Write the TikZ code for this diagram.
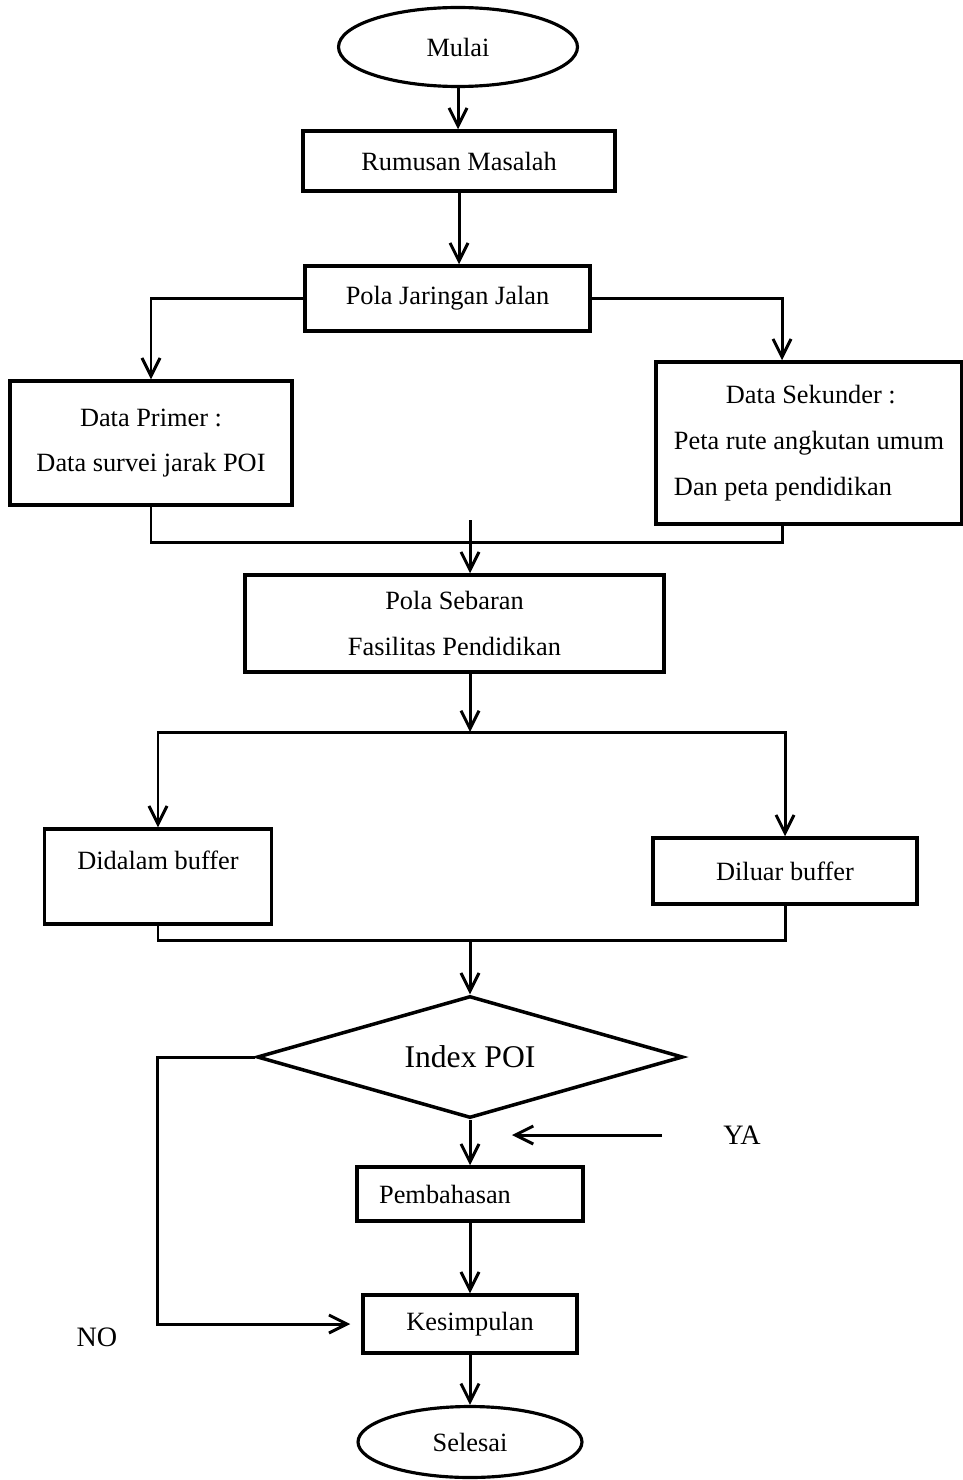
\documentclass[tikz,border=0pt]{standalone}
\usepackage{fontspec}
\setmainfont{Liberation Serif}
\usetikzlibrary{arrows.meta,shapes.geometric}

\begin{document}
\begin{tikzpicture}[x=0.02cm,y=-0.02cm,>={Straight Barb[length=3.6mm,width=3.6mm]},
    box/.style={draw,rectangle,line width=2pt,inner sep=0pt,font=\fontsize{15}{26}\selectfont},
    term/.style={draw,ellipse,line width=1.8pt,inner sep=0pt,font=\fontsize{15}{18}\selectfont},
    line/.style={line width=1.7pt},
    lbl/.style={font=\fontsize{16}{19}\selectfont}]
    \useasboundingbox (0,0) rectangle (963,1480);

    \node[term,minimum width=4.78cm,minimum height=1.58cm] (mulai) at (458,47) {Mulai};
    \node[box,minimum width=6.24cm,minimum height=1.2cm] (rumusan) at (459,161) {Rumusan Masalah};
    \node[box,minimum width=5.7cm,minimum height=1.3cm] (jaringan) at (447.5,298.5) {Pola Jaringan Jalan};
    \node[box,align=center,minimum width=5.64cm,minimum height=2.48cm] (primer) at (151,443) {Data Primer :\\Data survei jarak POI};
    \node[box,align=left,minimum width=6.12cm,minimum height=3.24cm] (sekunder) at (809,443) {\hspace*{1.04cm}Data Sekunder :\\Peta rute angkutan umum\\Dan peta pendidikan};
    \node[box,align=center,minimum width=8.38cm,minimum height=1.94cm] (sebaran) at (454.5,623.5) {Pola Sebaran\\Fasilitas Pendidikan};
    \node[box,minimum width=4.54cm,minimum height=1.9cm] (didalam) at (158,876.5) {\raisebox{0.64cm}{Didalam buffer}};
    \node[box,minimum width=5.28cm,minimum height=1.32cm] (diluar) at (785,871) {Diluar buffer};
    \node[draw,diamond,aspect=3.5,line width=2pt,inner sep=0pt,minimum width=8.52cm,minimum height=2.44cm,font=\fontsize{18}{21}\selectfont] (poi) at (470,1057) {Index POI};
    \node[box,minimum width=4.52cm,minimum height=1.08cm] (pembahasan) at (470,1194) {Pembahasan\kern1cm};
    \node[box,minimum width=4.28cm,minimum height=1.16cm] (kesimpulan) at (470,1324) {Kesimpulan};
    \node[term,minimum width=4.48cm,minimum height=1.42cm] (selesai) at (470,1442) {Selesai};
    \node[lbl] (ya) at (742,1135) {YA};
    \node[lbl] (no) at (97,1337) {NO};

    \coordinate (p1) at (470,520);
    \coordinate (p2) at (470,732);
    \coordinate (p3) at (470,940);

    \draw[->,line] (mulai.south) -- (mulai.south |- rumusan.north);
    \draw[->,line] (rumusan.south) -- (rumusan.south |- jaringan.north);
    \draw[->,line] (jaringan.west) -| (primer.north);
    \draw[->,line] (jaringan.east) -| ([xshift=-0.54cm]sekunder.north);
    \draw[line] (primer.south) -- ++(0,36) -| ([xshift=-0.54cm]sekunder.south);
    \draw[->,line] (p1) -- (p1 |- sebaran.north);
    \draw[->,line] (p2 |- sebaran.south) -- (p2);
    \draw[->,line] (p2) -| (didalam.north);
    \draw[->,line] (p2) -| (diluar.north);
    \draw[line] (didalam.south) |- (p3) -| (diluar.south);
    \draw[->,line] (p3) -- (poi.north);
    \draw[->,line] (poi.south) -- (pembahasan.north);
    \draw[->,line,shorten <=1.1cm,shorten >=0.84cm] (ya) -- (ya -| poi.south);
    \draw[->,line] (pembahasan.south) -- (kesimpulan.north);
    \draw[->,line,shorten >=0.22cm] (poi.west) -- ++(-98,0) |- (kesimpulan.west);
    \draw[->,line] (kesimpulan.south) -- (selesai.north);
\end{tikzpicture}
\end{document}
